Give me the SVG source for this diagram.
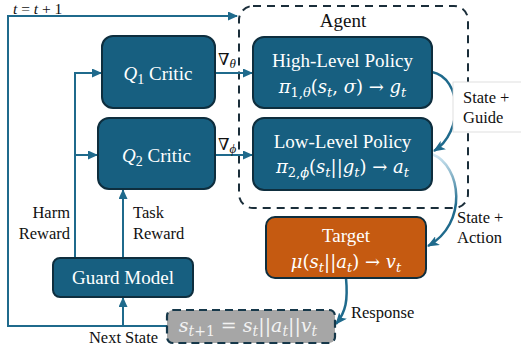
<svg xmlns="http://www.w3.org/2000/svg" width="521" height="356" viewBox="0 0 521 356">
  <style>
    text { font-family: "Liberation Serif", "DejaVu Serif", serif; }
    .node { fill: #175F80; stroke: #0E2E3E; stroke-width: 2; }
    .target { fill: #C55A11; stroke: #0E2E3E; stroke-width: 2; }
    .state { fill: #A6A6A6; stroke: #16384A; stroke-width: 2.2; stroke-dasharray: 8 5; }
    .agent { fill: none; stroke: #1B2E3A; stroke-width: 2; stroke-dasharray: 8 6; }
    .wt { fill: #FFFFFF; font-size: 19px; }
    .math { fill: #FFFFFF; font-size: 18px; font-family: "DejaVu Serif", "Liberation Serif", serif; }
    .lbl { fill: #111111; font-size: 16.5px; }
    .link { fill: none; stroke: #1F6A8C; stroke-width: 2; }
    .curve { fill: none; stroke: #1F6A8C; stroke-width: 2.5; }
    .i { font-style: italic; }
  </style>
  <defs>
    <marker id="arrow" markerUnits="userSpaceOnUse" markerWidth="10" markerHeight="9" refX="9" refY="4.5" orient="auto">
      <path d="M0,0 L10,4.5 L0,9 Z" fill="#1F6A8C"/>
    </marker>
    <marker id="arrowBig" markerUnits="userSpaceOnUse" markerWidth="12" markerHeight="10" refX="11" refY="5" orient="auto">
      <path d="M0,0 L12,5 L0,10 L3,5 Z" fill="#1F6A8C"/>
    </marker>
    <linearGradient id="fadeIn" gradientUnits="userSpaceOnUse" x1="0" y1="154" x2="0" y2="205">
      <stop offset="0" stop-color="#D4EAF5"/>
      <stop offset="1" stop-color="#1F6A8C"/>
    </linearGradient>
  </defs>

  <!-- agent boundary -->
  <g id="agent">
    <rect class="agent" x="239" y="6" width="229" height="202" rx="14"/>
    <text x="343" y="27" text-anchor="middle" style="fill:#111;font-size:19px">Agent</text>
  </g>

  <!-- connectors -->
  <g id="connectors">
    <path class="link" d="M167 326 H8 V16 H237" marker-end="url(#arrow)"/>
    <path class="link" d="M123 326 V298" marker-end="url(#arrow)"/>
    <path class="link" d="M75 258 V73 H101" marker-end="url(#arrow)"/>
    <path class="link" d="M75 155 H97" marker-end="url(#arrow)"/>
    <path class="link" d="M123 258 V190" marker-end="url(#arrow)"/>
    <path class="link" d="M215 73 H252" marker-end="url(#arrow)"/>
    <path class="link" d="M215 155 H252" marker-end="url(#arrow)"/>
    <path class="curve" d="M432 72 C462 78, 464 132, 434 151" marker-end="url(#arrowBig)"/>
    <path class="curve" style="stroke:url(#fadeIn)" d="M432 154 C462 166, 468 224, 428 246" marker-end="url(#arrowBig)"/>
    <path class="curve" d="M346 278 C348 300, 346 312, 336 324" marker-end="url(#arrowBig)"/>

    <text class="lbl" x="13" y="13.5" style="font-size:15.5px"><tspan class="i">t</tspan> = <tspan class="i">t</tspan> + 1</text>
    <text class="lbl" x="218" y="65">∇<tspan class="i" font-size="13" dy="3">θ</tspan></text>
    <text class="lbl" x="218" y="150">∇<tspan class="i" font-size="13" dy="3">ϕ</tspan></text>
    <text class="lbl" x="70" y="218" text-anchor="end">Harm</text>
    <text class="lbl" x="70" y="239" text-anchor="end">Reward</text>
    <text class="lbl" x="133" y="218">Task</text>
    <text class="lbl" x="133" y="239">Reward</text>
    <text class="lbl" x="123.5" y="343" text-anchor="middle">Next State</text>
    <rect x="453" y="82" width="70" height="50" fill="#FFFFFF" stroke="#D8D8D8" stroke-width="0.8"/>
    <text class="lbl" x="463" y="103">State +</text>
    <text class="lbl" x="463" y="123">Guide</text>
    <text class="lbl" x="457" y="223">State +</text>
    <text class="lbl" x="457" y="243">Action</text>
    <text class="lbl" x="351" y="318">Response</text>
  </g>

  <g id="q1-critic">
    <rect class="node" x="102" y="36" width="113" height="72" rx="11"/>
    <text class="wt" x="158" y="80" text-anchor="middle"><tspan class="i">Q</tspan><tspan font-size="14" dy="4">1</tspan><tspan dy="-4"> Critic</tspan></text>
  </g>

  <g id="q2-critic">
    <rect class="node" x="98" y="118" width="117" height="71" rx="11"/>
    <text class="wt" x="156.5" y="162" text-anchor="middle"><tspan class="i">Q</tspan><tspan font-size="14" dy="4">2</tspan><tspan dy="-4"> Critic</tspan></text>
  </g>

  <g id="high-level-policy">
    <rect class="node" x="253" y="37" width="179" height="71" rx="11"/>
    <text class="wt" x="342.5" y="67" text-anchor="middle">High-Level Policy</text>
    <text class="math" x="342.5" y="93" text-anchor="middle"><tspan class="i">π</tspan><tspan font-size="13" dy="4">1,<tspan class="i">θ</tspan></tspan><tspan dy="-4">(</tspan><tspan class="i">s</tspan><tspan class="i" font-size="13" dy="4">t</tspan><tspan dy="-4">, </tspan><tspan class="i">σ</tspan>) → <tspan class="i">g</tspan><tspan class="i" font-size="13" dy="4">t</tspan></text>
  </g>

  <g id="low-level-policy">
    <rect class="node" x="253" y="118" width="179" height="72" rx="11"/>
    <text class="wt" x="342.5" y="148" text-anchor="middle">Low-Level Policy</text>
    <text class="math" x="342.5" y="173" text-anchor="middle"><tspan class="i">π</tspan><tspan font-size="13" dy="4">2,<tspan class="i">ϕ</tspan></tspan><tspan dy="-4">(</tspan><tspan class="i">s</tspan><tspan class="i" font-size="13" dy="4">t</tspan><tspan dy="-4">||</tspan><tspan class="i">g</tspan><tspan class="i" font-size="13" dy="4">t</tspan><tspan dy="-4">) → </tspan><tspan class="i">a</tspan><tspan class="i" font-size="13" dy="4">t</tspan></text>
  </g>

  <g id="guard-model">
    <rect class="node" x="53" y="258" width="140" height="39" rx="7"/>
    <text class="wt" x="123" y="284" text-anchor="middle">Guard Model</text>
  </g>

  <g id="target">
    <rect class="target" x="266" y="217" width="160" height="61" rx="9"/>
    <text class="wt" x="346" y="242" text-anchor="middle">Target</text>
    <text class="math" x="346" y="268" text-anchor="middle"><tspan class="i">μ</tspan>(<tspan class="i">s</tspan><tspan class="i" font-size="13" dy="4">t</tspan><tspan dy="-4">||</tspan><tspan class="i">a</tspan><tspan class="i" font-size="13" dy="4">t</tspan><tspan dy="-4">) → </tspan><tspan class="i">v</tspan><tspan class="i" font-size="13" dy="4">t</tspan></text>
  </g>

  <g id="next-state">
    <rect class="state" x="167" y="310" width="168" height="33" rx="6"/>
    <text class="math" x="248" y="332" text-anchor="middle" style="fill:#F2F2F2;font-size:19px"><tspan class="i">s</tspan><tspan class="i" font-size="14" dy="4">t</tspan><tspan font-size="14">+1</tspan><tspan dy="-4"> = </tspan><tspan class="i">s</tspan><tspan class="i" font-size="14" dy="4">t</tspan><tspan dy="-4">||</tspan><tspan class="i">a</tspan><tspan class="i" font-size="14" dy="4">t</tspan><tspan dy="-4">||</tspan><tspan class="i">v</tspan><tspan class="i" font-size="14" dy="4">t</tspan></text>
  </g>
</svg>
